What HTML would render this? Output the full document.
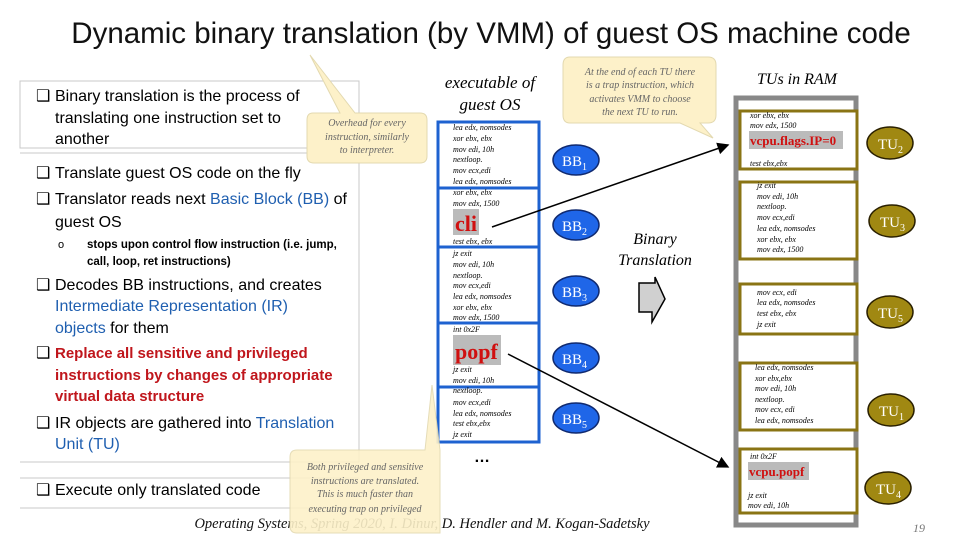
<!DOCTYPE html>
<html><head><meta charset="utf-8"><style>
body{margin:0;background:#fff}
svg{display:block}
.c{font-family:"Liberation Serif",serif;font-style:italic;font-size:8px;fill:#000}
.b{font-family:"Liberation Sans",sans-serif;font-size:16px;fill:#000}
.blue{fill:#1f5fb0}.red{fill:#c0161c;font-weight:bold}
.it{font-family:"Liberation Serif",serif;font-style:italic}
</style></head><body>
<svg width="960" height="540" viewBox="0 0 960 540" xmlns="http://www.w3.org/2000/svg">
<defs><marker id="ah" markerWidth="8" markerHeight="8" refX="7" refY="4" orient="auto"><path d="M0,0 L8,4 L0,8z" fill="#000"/></marker></defs>
<text x="491" y="43" text-anchor="middle" font-family="Liberation Sans,sans-serif" font-size="29.5" fill="#111">Dynamic binary translation (by VMM) of guest OS machine code</text>

<g stroke="#c8c8c8" fill="none" stroke-width="1">
<rect x="20" y="81" width="339" height="67"/>
<path d="M20 153 H359 V462 M20 462 H359 M20 478 H359 M20 508 H359"/>
</g>
<g class="b">
<text x="36" y="101">❑</text><text x="55" y="101">Binary translation is the process of</text>
<text x="55" y="123">translating one instruction set to</text>
<text x="55" y="144">another</text>
<text x="36" y="178">❑</text><text x="55" y="178">Translate guest OS code on the fly</text>
<text x="36" y="204">❑</text><text x="55" y="204">Translator reads next <tspan class="blue">Basic Block (BB)</tspan> of</text>
<text x="55" y="227">guest OS</text>
<text x="58" y="248" font-size="11">o</text><text x="87" y="248" font-size="11.5" font-weight="bold">stops upon control flow instruction (i.e. jump,</text>
<text x="87" y="265" font-size="11.5" font-weight="bold">call, loop, ret instructions)</text>
<text x="36" y="290">❑</text><text x="55" y="290">Decodes BB instructions, and creates</text>
<text x="55" y="311" class="blue">Intermediate Representation (IR)</text>
<text x="55" y="333"><tspan class="blue">objects</tspan> for them</text>
<text x="36" y="358">❑</text><text x="55" y="358" class="red" font-size="15">Replace all sensitive and privileged</text>
<text x="55" y="380" class="red" font-size="15">instructions by changes of appropriate</text>
<text x="55" y="401" class="red" font-size="15">virtual data structure</text>
<text x="36" y="428">❑</text><text x="55" y="428">IR objects are gathered into <tspan class="blue">Translation</tspan></text>
<text x="55" y="449" class="blue">Unit (TU)</text>
<text x="36" y="495">❑</text><text x="55" y="495">Execute only translated code</text>
</g>

<path d="M313 113 L340 113 L310 55 L355 113 L420 113 Q427 113 427 120 L427 156 Q427 163 420 163 L314 163 Q307 163 307 156 L307 120 Q307 113 313 113z" fill="#fdf1c9" stroke="#e3d9b0"/>
<g class="it" font-size="10" fill="#666" text-anchor="middle">
<text x="367" y="126">Overhead for every</text><text x="367" y="140">instruction, similarly</text><text x="367" y="153">to interpreter.</text></g>

<text x="490" y="88" text-anchor="middle" class="it" font-size="17">executable of</text>
<text x="490" y="110" text-anchor="middle" class="it" font-size="17">guest OS</text>
<rect x="438" y="122" width="101" height="320" fill="#fff" stroke="#1e62d0" stroke-width="3"/>
<path d="M438 188 H539 M438 247 H539 M438 323 H539 M438 387 H539" stroke="#1e62d0" stroke-width="3"/>
<g class="c">
<text x="453" y="130">lea edx, nomsodes</text><text x="453" y="141">xor ebx, ebx</text><text x="453" y="152">mov edi, 10h</text><text x="453" y="162">nextloop.</text><text x="453" y="173">mov ecx,edi</text><text x="453" y="184">lea edx, nomsodes</text>
<text x="453" y="195">xor ebx, ebx</text><text x="453" y="206">mov edx, 1500</text><text x="453" y="244">test ebx, ebx</text>
<text x="453" y="256">jz exit</text><text x="453" y="267">mov edi, 10h</text><text x="453" y="278">nextloop.</text><text x="453" y="288">mov ecx,edi</text><text x="453" y="299">lea edx, nomsodes</text><text x="453" y="310">xor ebx, ebx</text><text x="453" y="320">mov edx, 1500</text>
<text x="453" y="332">int 0x2F</text><text x="453" y="372">jz exit</text><text x="453" y="383">mov edi, 10h</text>
<text x="453" y="393">nextloop.</text><text x="453" y="405">mov ecx,edi</text><text x="453" y="416">lea edx, nomsodes</text><text x="453" y="426">test ebx,ebx</text><text x="453" y="437">jz exit</text>
</g>
<rect x="453" y="209" width="26" height="26" fill="#bbb"/>
<text x="455" y="231" font-family="Liberation Serif,serif" font-weight="bold" font-size="22" fill="#d01010">cli</text>
<rect x="453" y="335" width="48" height="30" fill="#bbb"/>
<text x="455" y="359" font-family="Liberation Serif,serif" font-weight="bold" font-size="22" fill="#d01010">popf</text>
<text x="482" y="462" text-anchor="middle" font-size="16" font-weight="bold" font-family="Liberation Sans,sans-serif">…</text>

<g fill="#1f66e8" stroke="#102a70" stroke-width="1.5">
<ellipse cx="576" cy="160" rx="23" ry="15"/><ellipse cx="576" cy="225" rx="23" ry="15"/><ellipse cx="576" cy="291" rx="23" ry="15"/><ellipse cx="576" cy="358" rx="23" ry="15"/><ellipse cx="576" cy="418" rx="23" ry="15"/></g>
<g font-family="Liberation Serif,serif" font-size="15" fill="#fff">
<text x="562" y="166">BB<tspan font-size="10" dy="4">1</tspan></text><text x="562" y="231">BB<tspan font-size="10" dy="4">2</tspan></text><text x="562" y="297">BB<tspan font-size="10" dy="4">3</tspan></text><text x="562" y="364">BB<tspan font-size="10" dy="4">4</tspan></text><text x="562" y="424">BB<tspan font-size="10" dy="4">5</tspan></text></g>

<text x="655" y="244" text-anchor="middle" class="it" font-size="16">Binary</text>
<text x="655" y="265" text-anchor="middle" class="it" font-size="16">Translation</text>
<path d="M639 283 H655 V277 L665 299 L652 322 V312 H639z" fill="#d0d0d0" stroke="#000" stroke-width="1.5"/>

<path d="M570 57 H708 Q716 57 716 65 V115 Q716 123 708 123 H700 L713 138 L680 123 H570 Q563 123 563 115 V65 Q563 57 570 57z" fill="#fdf1c9" stroke="#e3d9b0"/>
<g class="it" font-size="10" fill="#666" text-anchor="middle">
<text x="640" y="75">At the end of each TU there</text><text x="640" y="88">is a trap instruction, which</text><text x="640" y="102">activates VMM to choose</text><text x="640" y="115">the next TU to run.</text></g>

<line x1="492" y1="227" x2="728" y2="145" stroke="#000" stroke-width="1.5" marker-end="url(#ah)"/>
<line x1="508" y1="354" x2="728" y2="467" stroke="#000" stroke-width="1.5" marker-end="url(#ah)"/>

<text x="797" y="84" text-anchor="middle" class="it" font-size="16">TUs in RAM</text>
<rect x="736" y="98" width="120" height="427" fill="#fff" stroke="#888" stroke-width="5"/>
<g fill="#fff" stroke="#8a7414" stroke-width="3">
<rect x="740" y="111" width="117" height="58"/><rect x="740" y="182" width="117" height="77"/><rect x="740" y="284" width="117" height="50"/><rect x="740" y="363" width="117" height="67"/><rect x="740" y="449" width="117" height="64"/></g>
<g class="c" font-size="7.5">
<text x="750" y="118">xor ebx, ebx</text><text x="750" y="128">mov edx, 1500</text><text x="750" y="166">test ebx,ebx</text>
<text x="757" y="188">jz exit</text><text x="757" y="199">mov edi, 10h</text><text x="757" y="209">nextloop.</text><text x="757" y="220">mov ecx,edi</text><text x="757" y="231">lea edx, nomsodes</text><text x="757" y="242">xor ebx, ebx</text><text x="757" y="252">mov edx, 1500</text>
<text x="757" y="295">mov ecx, edi</text><text x="757" y="305">lea edx, nomsodes</text><text x="757" y="316">test ebx, ebx</text><text x="757" y="327">jz exit</text>
<text x="755" y="370">lea edx, nomsodes</text><text x="755" y="381">xor ebx,ebx</text><text x="755" y="391">mov edi, 10h</text><text x="755" y="402">nextloop.</text><text x="755" y="412">mov ecx, edi</text><text x="755" y="423">lea edx, nomsodes</text>
<text x="750" y="459">int 0x2F</text><text x="748" y="498">jz exit</text><text x="748" y="508">mov edi, 10h</text></g>
<rect x="749" y="131" width="94" height="18" fill="#bbb"/>
<text x="750" y="145" font-family="Liberation Serif,serif" font-weight="bold" font-size="13" fill="#d01010">vcpu.flags.IP=0</text>
<rect x="748" y="462" width="61" height="18" fill="#bbb"/>
<text x="749" y="476" font-family="Liberation Serif,serif" font-weight="bold" font-size="13" fill="#d01010">vcpu.popf</text>

<g fill="#a08812" stroke="#2a2000" stroke-width="1.5">
<ellipse cx="890" cy="143" rx="23" ry="16"/><ellipse cx="892" cy="221" rx="23" ry="16"/><ellipse cx="890" cy="312" rx="23" ry="16"/><ellipse cx="891" cy="410" rx="23" ry="16"/><ellipse cx="888" cy="488" rx="23" ry="16"/></g>
<g font-family="Liberation Serif,serif" font-size="15" fill="#fff">
<text x="878" y="149">TU<tspan font-size="10" dy="4">2</tspan></text><text x="880" y="227">TU<tspan font-size="10" dy="4">3</tspan></text><text x="878" y="318">TU<tspan font-size="10" dy="4">5</tspan></text><text x="879" y="416">TU<tspan font-size="10" dy="4">1</tspan></text><text x="876" y="494">TU<tspan font-size="10" dy="4">4</tspan></text></g>

<text x="422" y="528" text-anchor="middle" class="it" font-size="14.5" fill="#111">Operating Systems, Spring 2020, I. Dinur, D. Hendler and M. Kogan-Sadetsky</text>
<text x="913" y="532" class="it" font-size="12" fill="#777">19</text>

<path d="M297 450 H425 L432 385 L440 450 V533 H297 Q290 533 290 526 V457 Q290 450 297 450z" fill="#fdf1c9" stroke="#e3d9b0" opacity="0.9"/>
<g class="it" font-size="10" fill="#666" text-anchor="middle">
<text x="365" y="470">Both privileged and sensitive</text><text x="365" y="484">instructions are translated.</text><text x="365" y="497">This is much faster than</text><text x="365" y="512">executing trap on privileged</text></g>
</svg>
</body></html>
